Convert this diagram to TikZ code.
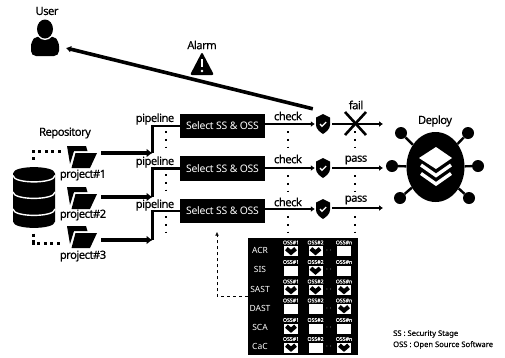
\documentclass[tikz,border=0pt]{standalone}
\usepackage{fontspec}
\setmainfont{Noto Sans}
\newfontfamily\lblfont{Noto Sans}[FakeBold=0.35,LetterSpace=-4.5]
\newfontfamily\boxfont{Noto Sans}[LetterSpace=-2.5]
\newfontfamily\notefont{Noto Sans}[FakeBold=0.25]
\usetikzlibrary{arrows.meta,shapes.geometric}
\tikzset{
  lbl/.style={inner sep=0pt,font=\fontsize{11.2}{12}\lblfont},
  selectbox/.style={fill=black,text=white,minimum width=85pt,minimum height=24.5pt,inner sep=0pt,font=\fontsize{10.4}{12}\boxfont},
  holder/.style={minimum width=#1,minimum height=20pt,inner sep=0pt},
  mainarrow/.style={line width=4.5pt,-{Latex[length=6pt,width=9pt]}},
  pipeline/.style={line width=2.6pt},
  thinarrow/.style={line width=2pt,-{Latex[length=4pt,width=6pt]}},
  dotline/.style={line width=1.8pt,dash pattern=on 1.8pt off 6pt},
  repodots/.style={line width=3pt,dash pattern=on 3pt off 3.6pt},
  ossbox/.style={fill=white,minimum width=14pt,minimum height=10pt,inner sep=0pt},
  osslbl/.style={text=white,inner sep=0pt,font=\fontsize{5.2}{6}\notefont},
  stagelbl/.style={text=white,inner sep=0pt,font=\fontsize{8.5}{10}\selectfont},
  notelbl/.style={inner sep=0pt,anchor=west,font=\fontsize{7.6}{9}\notefont},
  satellite/.style={circle,fill=black,minimum size=12pt,inner sep=0pt},
  spoke/.style={line width=2.4pt},
  shieldpic/.pic={
    \fill (0,-10) -- (7,-6.5) -- (7,1) .. controls (7,5) and (3,8) .. (0,10) .. controls (-3,8) and (-7,5) .. (-7,1) -- (-7,-6.5) -- cycle;
    \draw [white,line width=1.3pt] (-3,0) -- (-1,2.3) -- (3.2,-2);
  },
  folderpic/.pic={
    \fill (0,0) -- (19,0) -- (20.5,5) -- (7,5) -- (3,18) -- cycle;
    \fill (8.5,7) -- (30,7) -- (23,22) -- (4.5,22) -- cycle;
  },
  tickpic/.pic={
    \draw [line width=4.2pt] (-4.6,-2.3) -- (0,1.6) -- (4.6,-2.3);
  },
}
\begin{document}
\begin{tikzpicture}[x=1pt,y=-1pt]
\useasboundingbox (0,0) rectangle (505,357);

% user
\node [lbl] (userlabel) at (47,11) {User};
\node [holder=30pt,minimum height=36pt] (user) at (45,38) {};
\fill [rounded corners=5pt] (31,56) -- (31,41) -- (37,36) -- (53,36) -- (59,41) -- (59,56) -- cycle;
\fill [white] (45,29) ellipse (9.5 and 11);
\fill (45,29) ellipse (8 and 9.5);

% alarm
\node [lbl] (alarmlabel) at (202,45) {Alarm};
\fill [rounded corners=2pt,line join=round] (202,52) -- (214,75) -- (190,75) -- cycle;
\draw [white,line width=2.2pt] (202,59) -- (202,67);
\fill [white] (202,71) circle (1.4);

% repository
\node [lbl] (repolabel) at (65,133) {Repository};
\fill (13,173.5) .. controls (13,165) and (55,165) .. (55,173.5) -- (55,221.5) .. controls (55,230) and (13,230) .. (13,221.5) -- cycle;
\draw [white,line width=1.4pt] (13,175.5) .. controls (13,184) and (55,184) .. (55,175.5);
\draw [white,line width=1.4pt] (13,192) .. controls (13,200.5) and (55,200.5) .. (55,192);
\draw [white,line width=1.4pt] (13,209) .. controls (13,217.5) and (55,217.5) .. (55,209);
\draw [repodots] (33.5,159.5) -- (33.5,151) -- (61,151);
\draw [repodots] (33.5,233.5) -- (33.5,243) -- (61,243);

% projects
\node [holder=30pt,minimum height=22pt] (folder1) at (82,157) {};
\node [holder=30pt,minimum height=22pt] (folder2) at (82,198) {};
\node [holder=30pt,minimum height=22pt] (folder3) at (82,237) {};
\pic at (67,146) {folderpic};
\pic at (67,187) {folderpic};
\pic at (67,226) {folderpic};
\node [lbl] (project1) at (83,175) {project\#1};
\node [lbl] (project2) at (83,215) {project\#2};
\node [lbl] (project3) at (83,256) {project\#3};

% select boxes
\node [selectbox] (select1) at (222.5,126) {Select SS \& OSS};
\node [selectbox] (select2) at (222.5,168.5) {Select SS \& OSS};
\node [selectbox] (select3) at (222.5,211) {Select SS \& OSS};

\coordinate (feed1) at (152.5,153);
\coordinate (feed2) at (152.5,197);
\coordinate (feed3) at (152.5,240);

\draw [mainarrow] ([xshift=4pt]folder1.east |- feed1) -- (feed1);
\draw [mainarrow] ([xshift=4pt]folder2.east |- feed2) -- (feed2);
\draw [mainarrow] ([xshift=4pt]folder3.east |- feed3) -- (feed3);

\draw [pipeline] (feed1) |- (select1.west);
\draw [pipeline] (feed2) |- (select2.west);
\draw [pipeline] (feed3) |- (select3.west);

\node [lbl] (pipe1) at (155,119) {pipeline};
\node [lbl] (pipe2) at (155,162) {pipeline};
\node [lbl] (pipe3) at (155,205) {pipeline};

% shields
\node [holder=14pt] (shield1) at (323,124) {};
\node [holder=14pt] (shield2) at (323,168) {};
\node [holder=14pt] (shield3) at (323,209) {};
\pic at (323,124) {shieldpic};
\pic at (323,168) {shieldpic};
\pic at (323,209) {shieldpic};

\draw [thinarrow] (select1.east |- shield1) -- ([xshift=-1pt]shield1.west);
\draw [thinarrow] (select2.east |- shield2) -- ([xshift=-1pt]shield2.west);
\draw [thinarrow] (select3.east |- shield3) -- ([xshift=-1pt]shield3.west);

\draw [line width=3.6pt,-{Latex[length=5pt,width=7pt]}] ([xshift=-3pt,yshift=5pt]shield1.north west) -- ([yshift=-10pt]user.east -| 66,0);

\node [lbl] (check1) at (288,116) {check};
\node [lbl] (check2) at (288,159) {check};
\node [lbl] (check3) at (288,202) {check};

\coordinate (failtip) at (383,124);
\coordinate (passtip1) at (383,168);
\coordinate (passtip2) at (383,208);
\draw [thinarrow] ([xshift=2pt]shield1.east) -- (failtip);
\draw [thinarrow] ([xshift=2pt]shield2.east) -- (passtip1);
\draw [thinarrow] ([xshift=2pt]shield3.east |- passtip2) -- (passtip2);

\draw [line width=2.6pt] (345,112) -- (366,135);
\draw [line width=2.6pt] (366,112) -- (345,135);

\node [lbl] (fail) at (356,105) {fail};
\node [lbl] (pass1) at (356,160) {pass};
\node [lbl] (pass2) at (356,200) {pass};

% dots between the rows
\draw [dotline] (166,131) -- (166,150);
\draw [dotline] (166,174) -- (166,193);
\draw [dotline] (166,216) -- (166,235);
\draw [dotline] (288,131) -- (288,150);
\draw [dotline] (288,175) -- (288,194);
\draw [dotline] (288,216) -- (288,235);
\draw [dotline] (355,131) -- (355,150);
\draw [dotline] (355,175) -- (355,194);
\draw [dotline] (355,216) -- (355,235);

% deploy
\node [lbl] (deploylabel) at (435,121) {Deploy};
\node [satellite] (sat1) at (401,133) {};
\node [satellite] (sat2) at (468,133) {};
\node [satellite] (sat3) at (392,166) {};
\node [satellite] (sat4) at (478,166) {};
\node [satellite] (sat5) at (400,198) {};
\node [satellite] (sat6) at (469,198) {};
\node [ellipse,fill=black,minimum width=58pt,minimum height=70pt,inner sep=0pt] (hub) at (435.5,167) {};
\draw [spoke] (hub) -- (sat1);
\draw [spoke] (hub) -- (sat2);
\draw [spoke] (hub) -- (sat3);
\draw [spoke] (hub) -- (sat4);
\draw [spoke] (hub) -- (sat5);
\draw [spoke] (hub) -- (sat6);
\fill [white] (436,147) -- (452,158) -- (436,169) -- (419,158) -- cycle;
\draw [white,line width=3.4pt] (421,165) -- (436,175.5) -- (451,165);
\draw [white,line width=3.4pt] (421,173.5) -- (436,184) -- (451,173.5);

% security stages
\node [fill=black,minimum width=110pt,minimum height=117pt,inner sep=0pt] (ossboard) at (303,296.5) {};
\coordinate (selecttip) at (217,232);
\draw [dashed,-{Latex[length=3.5pt,width=3.5pt]}] (ossboard.west) -| (selecttip);

\foreach \rownum/\stage/\firsty/\cella/\cellb/\celln in {1/ACR/250/1/1/0,2/SIS/269.5/0/1/0,3/SAST/289/1/1/1,4/DAST/308/0/0/1,5/SCA/327.5/1/0/0,6/CaC/346.5/1/0/1} {
  \node [stagelbl] (stage\rownum) at (260,\firsty) {\stage};
  \node [ossbox] (oss\rownum-1) at (291,\firsty+1) {};
  \node [ossbox] (oss\rownum-2) at (315.5,\firsty+1) {};
  \node [ossbox] (oss\rownum-3) at (344,\firsty+1) {};
  \node [osslbl] (name\rownum-1) at (291,\firsty-7.5) {OSS\#1};
  \node [osslbl] (name\rownum-2) at (315.5,\firsty-7.5) {OSS\#2};
  \node [osslbl] (name\rownum-3) at (344,\firsty-7.5) {OSS\#n};
  \ifnum\cella=1 \pic at (oss\rownum-1) {tickpic}; \fi
  \ifnum\cellb=1 \pic at (oss\rownum-2) {tickpic}; \fi
  \ifnum\celln=1 \pic at (oss\rownum-3) {tickpic}; \fi
  \node [text=white,inner sep=0pt,font=\fontsize{8}{8}\selectfont] (more\rownum) at (329,\firsty+0.5) {$\cdot\,\cdot$};
}

% notes
\node [notelbl] (note1) at (393,334) {SS : Security Stage};
\node [notelbl] (note2) at (393,345) {OSS : Open Source Software};
\end{tikzpicture}
\end{document}
